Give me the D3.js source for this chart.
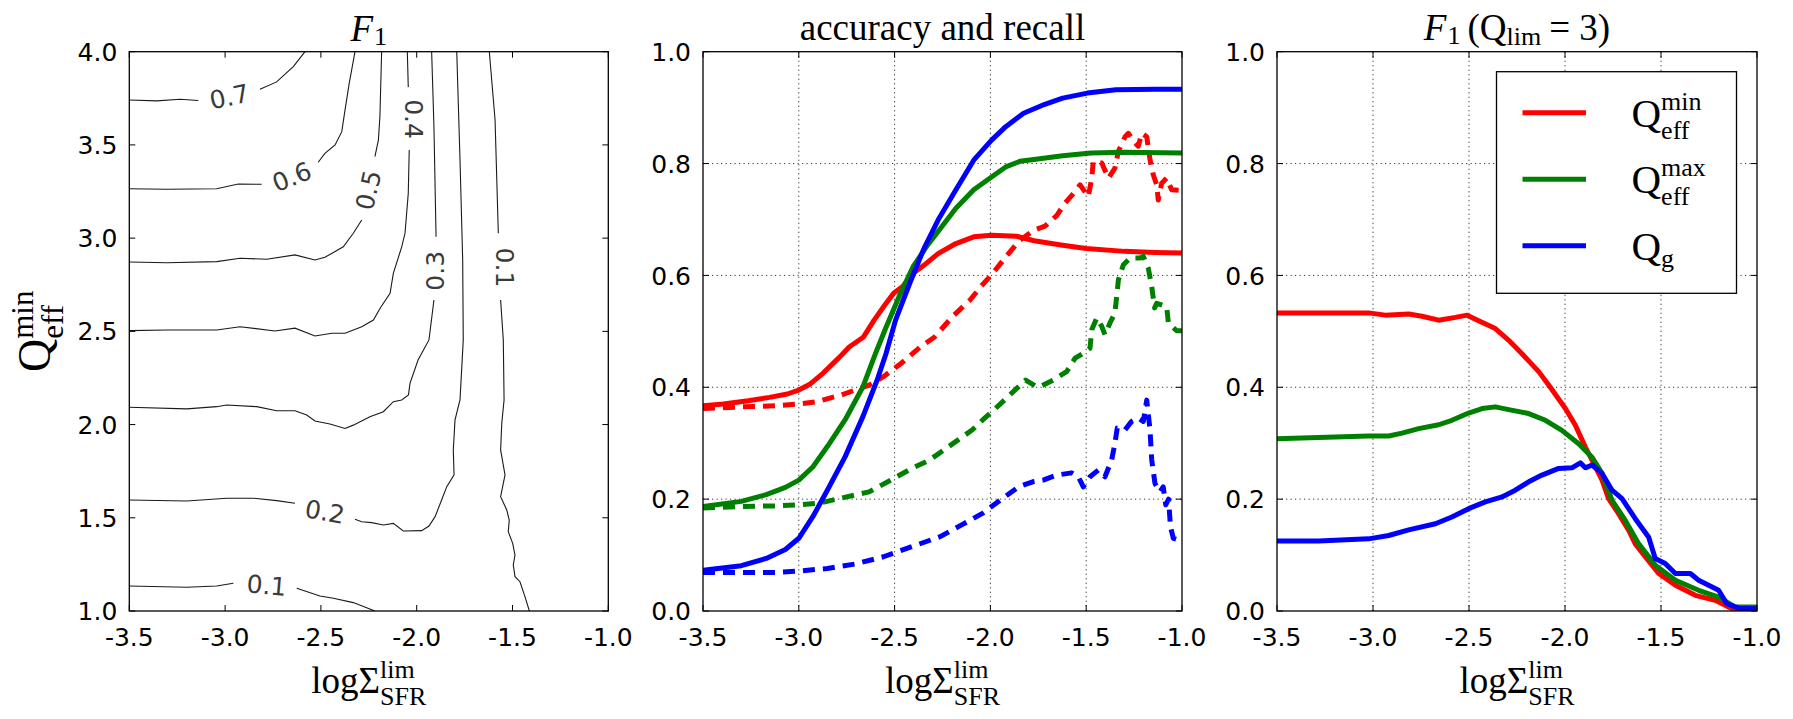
<!DOCTYPE html>
<html><head><meta charset="utf-8">
<script src="https://cdn.jsdelivr.net/npm/d3@7"></script>
<style>body{margin:0;background:#fff;} svg{display:block;}</style>
</head><body>
<svg id="chart" width="1793" height="719"></svg>
<script>
// ---------- data ----------
const xTicks = [-3.5, -3.0, -2.5, -2.0, -1.5, -1.0];
const xTickLabels = ["-3.5", "-3.0", "-2.5", "-2.0", "-1.5", "-1.0"];
const qTicks = [1.0, 1.5, 2.0, 2.5, 3.0, 3.5, 4.0];
const qTickLabels = ["1.0", "1.5", "2.0", "2.5", "3.0", "3.5", "4.0"];
const fTicks = [0.0, 0.2, 0.4, 0.6, 0.8, 1.0];
const fTickLabels = ["0.0", "0.2", "0.4", "0.6", "0.8", "1.0"];

// contour lines of F1 (left panel), each level as segments [[logSFR, Qmin], ...]
const contour07 = [
  [[-3.5,3.741],[-3.357,3.736],[-3.235,3.745],[-3.14,3.738]],
  [[-2.818,3.798],[-2.731,3.838],[-2.644,3.92],[-2.583,4.0]]
];
const contour06 = [
  [[-3.5,3.265],[-3.305,3.262],[-3.044,3.265],[-2.931,3.29],[-2.809,3.289]],
  [[-2.514,3.407],[-2.479,3.455],[-2.426,3.5],[-2.391,3.571],[-2.374,3.688],[-2.352,3.831],[-2.322,4.0]]
];
const contour05 = [
  [[-3.5,2.872],[-3.305,2.868],[-3.044,2.874],[-2.922,2.892],[-2.783,2.887],[-2.635,2.91],[-2.531,2.883],[-2.479,2.897],[-2.383,2.954],[-2.331,3.026],[-2.287,3.097]],
  [[-2.218,3.437],[-2.2,3.526],[-2.192,3.651],[-2.183,4.0]]
];
const contour04 = [
  [[-2.049,4.0],[-2.044,3.81]],
  [[-2.039,3.473],[-2.044,3.24],[-2.061,3.026],[-2.078,2.954],[-2.122,2.811],[-2.139,2.704],[-2.191,2.624],[-2.226,2.561],[-2.287,2.525],[-2.374,2.49],[-2.443,2.49],[-2.531,2.475],[-2.635,2.517],[-2.74,2.502],[-2.922,2.525],[-3.044,2.507],[-3.305,2.507],[-3.5,2.504]]
];
const contour03 = [
  [[-1.922,4.0],[-1.91,3.598],[-1.899,3.008]],
  [[-1.91,2.668],[-1.936,2.454],[-1.993,2.346],[-2.035,2.221],[-2.043,2.159],[-2.078,2.132],[-2.122,2.123],[-2.174,2.069],[-2.244,2.042],[-2.331,1.997],[-2.374,1.979],[-2.453,2.003],[-2.531,2.019],[-2.574,2.051],[-2.635,2.074],[-2.731,2.074],[-2.835,2.096],[-2.992,2.105],[-3.044,2.096],[-3.2,2.084],[-3.5,2.093]]
];
const contour02 = [
  [[-1.791,4.0],[-1.774,3.42],[-1.76,2.883],[-1.757,2.454],[-1.774,2.132],[-1.8,2.025],[-1.809,1.864],[-1.805,1.73],[-1.843,1.667],[-1.87,1.595],[-1.904,1.506],[-1.936,1.456],[-1.974,1.431],[-2.07,1.429],[-2.122,1.47],[-2.174,1.461],[-2.235,1.474],[-2.287,1.479],[-2.322,1.492]],
  [[-2.635,1.578],[-2.731,1.592],[-2.853,1.605],[-2.992,1.605],[-3.2,1.59],[-3.5,1.595]]
];
const contour01 = [
  [[-1.621,4.0],[-1.591,3.634],[-1.574,3.026]],
  [[-1.562,2.668],[-1.548,2.454],[-1.544,2.132],[-1.556,2.007],[-1.562,1.864],[-1.539,1.73],[-1.562,1.613],[-1.53,1.542],[-1.517,1.488],[-1.522,1.425],[-1.499,1.363],[-1.487,1.3],[-1.496,1.247],[-1.487,1.184],[-1.461,1.157],[-1.435,1.077],[-1.412,1.0]],
  [[-3.5,1.134],[-3.2,1.127],[-3.044,1.134],[-2.957,1.149]],
  [[-2.626,1.122],[-2.505,1.08],[-2.435,1.068],[-2.331,1.045],[-2.218,1.0]]
];
const contourLabelText = ["0.7", "0.6", "0.5", "0.4", "0.3", "0.2", "0.1", "0.1"];
const contourLabelAt = [[-2.978,3.759],[-2.652,3.33],[-2.253,3.258],[-2.014,3.639],[-1.904,2.825],[-2.479,1.533],[-1.539,2.843],[-2.783,1.139]];
const contourLabelAngle = [-12, -22, -77, 90, -90, 10, 90, 5];

// middle panel: accuracy (solid) and recall (dashed)
const accMin = [[-3.5,0.367],[-3.394,0.370],[-3.264,0.376],[-3.153,0.382],[-3.06,0.388],[-3.0,0.395],[-2.94,0.406],[-2.874,0.425],[-2.79,0.453],[-2.737,0.472],[-2.662,0.49],[-2.607,0.52],[-2.551,0.547],[-2.505,0.568],[-2.458,0.58],[-2.403,0.604],[-2.347,0.618],[-2.273,0.639],[-2.18,0.657],[-2.087,0.669],[-1.994,0.672],[-1.864,0.670],[-1.772,0.662],[-1.623,0.654],[-1.5,0.648],[-1.3,0.643],[-1.14,0.641],[-1.0,0.640]];
const accMax = [[-3.5,0.187],[-3.3,0.196],[-3.17,0.208],[-3.07,0.221],[-3.0,0.234],[-2.926,0.258],[-2.851,0.294],[-2.758,0.342],[-2.665,0.401],[-2.6,0.46],[-2.551,0.502],[-2.477,0.562],[-2.403,0.616],[-2.328,0.654],[-2.254,0.687],[-2.18,0.72],[-2.087,0.753],[-1.994,0.776],[-1.92,0.794],[-1.846,0.804],[-1.753,0.808],[-1.623,0.814],[-1.475,0.819],[-1.3,0.82],[-1.0,0.819]];
const accG = [[-3.5,0.073],[-3.3,0.081],[-3.17,0.094],[-3.07,0.110],[-3.0,0.130],[-2.926,0.169],[-2.851,0.216],[-2.758,0.276],[-2.665,0.348],[-2.591,0.413],[-2.545,0.46],[-2.495,0.52],[-2.421,0.586],[-2.347,0.648],[-2.273,0.699],[-2.18,0.753],[-2.087,0.806],[-1.994,0.842],[-1.92,0.866],[-1.827,0.89],[-1.716,0.906],[-1.623,0.917],[-1.494,0.926],[-1.345,0.932],[-1.14,0.933],[-1.0,0.933]];
const recMin = [[-3.5,0.362],[-3.3,0.365],[-3.116,0.367],[-3.0,0.370],[-2.911,0.374],[-2.78,0.386],[-2.633,0.404],[-2.558,0.419],[-2.465,0.443],[-2.366,0.472],[-2.291,0.49],[-2.199,0.526],[-2.106,0.556],[-2.05,0.58],[-1.994,0.601],[-1.92,0.633],[-1.846,0.663],[-1.772,0.681],[-1.715,0.688],[-1.654,0.707],[-1.611,0.729],[-1.558,0.750],[-1.532,0.762],[-1.489,0.741],[-1.471,0.774],[-1.463,0.804],[-1.419,0.801],[-1.384,0.774],[-1.35,0.792],[-1.332,0.822],[-1.297,0.848],[-1.28,0.854],[-1.245,0.837],[-1.228,0.831],[-1.21,0.854],[-1.184,0.848],[-1.167,0.807],[-1.15,0.78],[-1.132,0.762],[-1.124,0.735],[-1.106,0.765],[-1.08,0.774],[-1.054,0.753],[-1.0,0.752]];
const recMax = [[-3.5,0.184],[-3.3,0.187],[-3.116,0.188],[-3.0,0.19],[-2.889,0.193],[-2.778,0.202],[-2.633,0.213],[-2.52,0.234],[-2.41,0.255],[-2.317,0.270],[-2.243,0.288],[-2.168,0.306],[-2.094,0.324],[-2.039,0.342],[-1.983,0.359],[-1.927,0.377],[-1.872,0.395],[-1.816,0.413],[-1.76,0.401],[-1.741,0.401],[-1.672,0.413],[-1.602,0.428],[-1.558,0.452],[-1.515,0.461],[-1.48,0.47],[-1.471,0.503],[-1.445,0.524],[-1.419,0.509],[-1.402,0.494],[-1.376,0.515],[-1.35,0.533],[-1.341,0.562],[-1.332,0.592],[-1.306,0.619],[-1.271,0.631],[-1.219,0.631],[-1.202,0.634],[-1.176,0.613],[-1.158,0.58],[-1.15,0.56],[-1.143,0.542],[-1.132,0.55],[-1.08,0.544],[-1.071,0.515],[-1.028,0.501],[-1.0,0.501]];
const recG = [[-3.5,0.069],[-3.3,0.069],[-3.116,0.069],[-3.0,0.0715],[-2.851,0.076],[-2.706,0.084],[-2.558,0.097],[-2.41,0.115],[-2.262,0.133],[-2.15,0.154],[-2.039,0.175],[-1.946,0.199],[-1.853,0.222],[-1.779,0.231],[-1.724,0.234],[-1.654,0.243],[-1.576,0.247],[-1.541,0.240],[-1.515,0.222],[-1.48,0.240],[-1.437,0.252],[-1.402,0.240],[-1.367,0.270],[-1.35,0.30],[-1.338,0.327],[-1.297,0.324],[-1.263,0.339],[-1.228,0.345],[-1.202,0.339],[-1.184,0.377],[-1.167,0.324],[-1.158,0.270],[-1.141,0.228],[-1.115,0.213],[-1.098,0.222],[-1.085,0.19],[-1.07,0.2],[-1.06,0.15],[-1.045,0.13],[-1.0,0.125]];

// right panel: F1 at Q_lim = 3
const f1Min = [[-3.5,0.533],[-3.283,0.533],[-3.023,0.533],[-2.936,0.529],[-2.814,0.531],[-2.745,0.527],[-2.658,0.520],[-2.571,0.525],[-2.51,0.529],[-2.45,0.519],[-2.363,0.505],[-2.293,0.484],[-2.224,0.460],[-2.137,0.428],[-2.085,0.404],[-1.998,0.362],[-1.946,0.332],[-1.894,0.293],[-1.851,0.264],[-1.807,0.234],[-1.773,0.201],[-1.721,0.174],[-1.668,0.144],[-1.634,0.120],[-1.582,0.097],[-1.512,0.067],[-1.425,0.046],[-1.321,0.028],[-1.217,0.019],[-1.148,0.007],[-1.095,0.0],[-1.0,0.0]];
const f1Max = [[-3.5,0.308],[-3.283,0.310],[-3.023,0.313],[-2.918,0.313],[-2.849,0.318],[-2.762,0.326],[-2.658,0.333],[-2.589,0.341],[-2.502,0.354],[-2.432,0.362],[-2.363,0.365],[-2.293,0.360],[-2.189,0.353],[-2.102,0.341],[-2.016,0.323],[-1.929,0.299],[-1.859,0.275],[-1.807,0.246],[-1.755,0.198],[-1.686,0.162],[-1.616,0.120],[-1.53,0.082],[-1.425,0.055],[-1.304,0.037],[-1.2,0.025],[-1.113,0.007],[-1.0,0.007]];
const f1G = [[-3.5,0.125],[-3.283,0.125],[-3.023,0.129],[-2.918,0.135],[-2.814,0.145],[-2.675,0.156],[-2.589,0.168],[-2.502,0.183],[-2.415,0.195],[-2.328,0.204],[-2.259,0.216],[-2.189,0.231],[-2.12,0.243],[-2.033,0.255],[-1.964,0.256],[-1.92,0.265],[-1.894,0.256],[-1.859,0.261],[-1.807,0.246],[-1.755,0.216],[-1.703,0.201],[-1.634,0.165],[-1.564,0.132],[-1.53,0.094],[-1.478,0.085],[-1.425,0.067],[-1.347,0.067],[-1.304,0.055],[-1.252,0.046],[-1.2,0.037],[-1.157,0.013],[-1.095,0.005],[-1.0,0.004]];

const seriesColors = ["#ff0000", "#008000", "#0000ff"];

// ---------- drawing ----------
const svg = d3.select("#chart");
const TOP = 51.7, BOT = 611;
const panels = [
  {x0: 129.3, x1: 608.3},
  {x0: 703, x1: 1182},
  {x0: 1277, x1: 1757}
];
const TICKFONT = "'DejaVu Sans', sans-serif";
const MATHFONT = "'Liberation Serif', 'DejaVu Serif', serif";

// builds one <text> element made of positioned tspans (base, superscript/subscript stacks)
function mathLabel(parent, items, anchor) {
  const g = parent.append("g");
  const probe = g.append("text").attr("font-family", MATHFONT).style("white-space", "pre");
  function measure(it) {
    probe.attr("font-size", it.size).attr("font-style", it.italic ? "italic" : "normal").text(it.t);
    return probe.node().getComputedTextLength();
  }
  const placed = [];
  let x = 0;
  items.forEach(it => {
    if (it.stack) {
      let w = 0;
      it.stack.forEach(s => { placed.push({it: s, x}); w = Math.max(w, measure(s)); });
      x += w;
    } else {
      placed.push({it, x});
      x += measure(it) + (it.after || 0);
    }
  });
  probe.remove();
  const off = anchor === "middle" ? -x / 2 : 0;
  const t = g.append("text").attr("font-family", MATHFONT).attr("fill", "#000").style("white-space", "pre");
  placed.forEach(pl => {
    t.append("tspan").attr("x", pl.x + off).attr("y", pl.it.shift || 0)
      .attr("font-size", pl.it.size).attr("font-style", pl.it.italic ? "italic" : "normal")
      .text(pl.it.t);
  });
  return g;
}

function makeScales(p, ydom) {
  const xs = d3.scaleLinear().domain([-3.5, -1.0]).range([p.x0, p.x1]);
  const ys = d3.scaleLinear().domain(ydom).range([BOT, TOP]);
  return {xs, ys};
}

function drawGrid(g, p, xs, ys, yt) {
  xTicks.slice(1, -1).forEach(v => {
    g.append("line").attr("x1", xs(v)).attr("x2", xs(v)).attr("y1", TOP).attr("y2", BOT)
      .attr("stroke", "#333").attr("stroke-width", 1).attr("stroke-dasharray", "1.2,3.3");
  });
  yt.slice(1, -1).forEach(v => {
    g.append("line").attr("y1", ys(v)).attr("y2", ys(v)).attr("x1", p.x0).attr("x2", p.x1)
      .attr("stroke", "#333").attr("stroke-width", 1).attr("stroke-dasharray", "1.2,3.3");
  });
}

function drawAxes(g, p, xs, ys, yt, ytl) {
  const tk = 6;
  xTicks.forEach((v, i) => {
    const x = xs(v);
    g.append("line").attr("x1", x).attr("x2", x).attr("y1", BOT).attr("y2", BOT - tk).attr("stroke", "#000").attr("stroke-width", 1);
    g.append("line").attr("x1", x).attr("x2", x).attr("y1", TOP).attr("y2", TOP + tk).attr("stroke", "#000").attr("stroke-width", 1);
    g.append("text").attr("x", x).attr("y", BOT + 34.5).attr("text-anchor", "middle")
      .attr("font-family", TICKFONT).attr("font-size", 25).attr("fill", "#000").text(xTickLabels[i]);
  });
  yt.forEach((v, i) => {
    const y = ys(v);
    g.append("line").attr("x1", p.x0).attr("x2", p.x0 + tk).attr("y1", y).attr("y2", y).attr("stroke", "#000").attr("stroke-width", 1);
    g.append("line").attr("x1", p.x1).attr("x2", p.x1 - tk).attr("y1", y).attr("y2", y).attr("stroke", "#000").attr("stroke-width", 1);
    g.append("text").attr("x", p.x0 - 12).attr("y", y + 9.1).attr("text-anchor", "end")
      .attr("font-family", TICKFONT).attr("font-size", 25).attr("fill", "#000").text(ytl[i]);
  });
  g.append("rect").attr("x", p.x0).attr("y", TOP).attr("width", p.x1 - p.x0).attr("height", BOT - TOP)
    .attr("fill", "none").attr("stroke", "#000").attr("stroke-width", 1.3);
}

function xLabel(p) {
  const cx = (p.x0 + p.x1) / 2;
  const g = svg.append("g").attr("transform", `translate(${cx},693)`);
  mathLabel(g, [
    {t: "logΣ", size: 37},
    {stack: [{t: "lim", size: 26, shift: -15}, {t: "SFR", size: 26, shift: 12}]}
  ], "middle");
}

const defs = svg.append("defs");
panels.forEach((p, i) => {
  defs.append("clipPath").attr("id", "clip" + i).append("rect")
    .attr("x", p.x0).attr("y", TOP).attr("width", p.x1 - p.x0).attr("height", BOT - TOP);
});

// ---- left panel: contours ----
{
  const p = panels[0];
  const {xs, ys} = makeScales(p, [1.0, 4.0]);
  const g = svg.append("g");
  const plot = g.append("g").attr("clip-path", "url(#clip0)");
  const line = d3.line().x(d => xs(d[0])).y(d => ys(d[1]));
  [contour07, contour06, contour05, contour04, contour03, contour02, contour01].forEach(level => {
    level.forEach(seg => {
      plot.append("path").attr("d", line(seg)).attr("fill", "none")
        .attr("stroke", "#1a1a1a").attr("stroke-width", 1.1);
    });
  });
  contourLabelText.forEach((t, i) => {
    const [lx, ly] = contourLabelAt[i];
    g.append("text").attr("transform", `translate(${xs(lx)},${ys(ly)}) rotate(${contourLabelAngle[i]})`)
      .attr("text-anchor", "middle").attr("dy", "0.36em")
      .attr("font-family", TICKFONT).attr("font-size", 25).attr("fill", "#3a3a3a").text(t);
  });
  drawAxes(g, p, xs, ys, qTicks, qTickLabels);
  xLabel(p);
  const tg = svg.append("g").attr("transform", `translate(${(p.x0 + p.x1) / 2},41)`);
  mathLabel(tg, [{t: "F", size: 37, italic: true, after: 1}, {t: "1", size: 26, shift: 4}], "middle");
  const yg = svg.append("g").attr("transform", `translate(50,${(TOP + BOT) / 2}) rotate(-90)`);
  mathLabel(yg, [
    {t: "Q", size: 46},
    {stack: [{t: "min", size: 31, shift: -17}, {t: "eff", size: 31, shift: 13}]}
  ], "middle");
}

// ---- middle panel ----
{
  const p = panels[1];
  const {xs, ys} = makeScales(p, [0, 1]);
  const g = svg.append("g");
  drawGrid(g, p, xs, ys, fTicks);
  const plot = g.append("g").attr("clip-path", "url(#clip1)");
  const line = d3.line().x(d => xs(d[0])).y(d => ys(d[1]));
  const order = [[accMin, 0, false], [recMin, 0, true], [accMax, 1, false], [recMax, 1, true], [accG, 2, false], [recG, 2, true]];
  order.forEach(([data, ci, dashed]) => {
    plot.append("path").attr("d", line(data)).attr("fill", "none")
      .attr("stroke", seriesColors[ci]).attr("stroke-width", 5)
      .attr("stroke-linejoin", "round")
      .attr("stroke-dasharray", dashed ? "12,8" : null);
  });
  drawAxes(g, p, xs, ys, fTicks, fTickLabels);
  xLabel(p);
  svg.append("text").attr("x", (p.x0 + p.x1) / 2).attr("y", 39.5).attr("text-anchor", "middle")
    .attr("font-family", MATHFONT).attr("font-size", 37).attr("fill", "#000").text("accuracy and recall");
}

// ---- right panel ----
{
  const p = panels[2];
  const {xs, ys} = makeScales(p, [0, 1]);
  const g = svg.append("g");
  drawGrid(g, p, xs, ys, fTicks);
  const plot = g.append("g").attr("clip-path", "url(#clip2)");
  const line = d3.line().x(d => xs(d[0])).y(d => ys(d[1]));
  [f1Min, f1Max, f1G].forEach((data, ci) => {
    plot.append("path").attr("d", line(data)).attr("fill", "none")
      .attr("stroke", seriesColors[ci]).attr("stroke-width", 5).attr("stroke-linejoin", "round");
  });
  drawAxes(g, p, xs, ys, fTicks, fTickLabels);
  xLabel(p);
  const tg = svg.append("g").attr("transform", `translate(${(p.x0 + p.x1) / 2},40)`);
  mathLabel(tg, [
    {t: "F", size: 37, italic: true, after: 1}, {t: "1", size: 26, shift: 4, after: 7},
    {t: "(Q", size: 37}, {t: "lim", size: 26, shift: 5, after: 8},
    {t: "= 3)", size: 37}
  ], "middle");

  // legend
  const lg = svg.append("g");
  lg.append("rect").attr("x", 1496.5).attr("y", 71.7).attr("width", 240).attr("height", 221.6)
    .attr("fill", "#fff").attr("stroke", "#000").attr("stroke-width", 1.3);
  const legendNames = [
    [{t: "Q", size: 41}, {stack: [{t: "min", size: 26, shift: -17}, {t: "eff", size: 26, shift: 12}]}],
    [{t: "Q", size: 41}, {stack: [{t: "max", size: 26, shift: -17}, {t: "eff", size: 26, shift: 12}]}],
    [{t: "Q", size: 41}, {t: "g", size: 26, shift: 7}]
  ];
  legendNames.forEach((items, i) => {
    const y = 112.7 + i * 66.5;
    lg.append("line").attr("x1", 1522.5).attr("x2", 1586).attr("y1", y).attr("y2", y)
      .attr("stroke", seriesColors[i]).attr("stroke-width", 5);
    const tg2 = lg.append("g").attr("transform", `translate(1631.5,${y + 14})`);
    mathLabel(tg2, items, "start");
  });
}
</script>
</body></html>
